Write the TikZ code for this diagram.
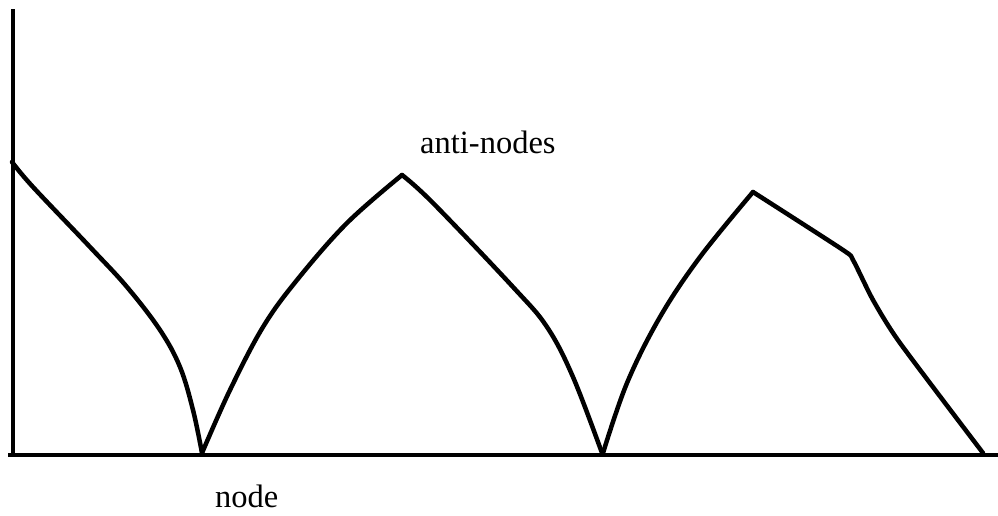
\documentclass[tikz,border=0pt]{standalone}
\usepackage{fontspec}
\setmainfont{Liberation Serif}
\begin{document}
\begin{tikzpicture}[x=1pt,y=-1pt,
  wave/.style={line width=4.5pt,line join=round,line cap=round},
  axis/.style={line width=4.5pt},
  lbl/.style={inner sep=0pt,anchor=base west,font=\fontsize{32.5}{38}\selectfont}]
\useasboundingbox (0,0) rectangle (998,515);
\fill[white] (0,0) rectangle (998,515);
\coordinate (o) at (13,455);
\coordinate (ytop) at (13,9);
\coordinate (xl) at (8,455);
\coordinate (xr) at (998,455);
\draw[axis] (ytop) -- (o |- xr);
\draw[axis] (xl) -- (xr);
\draw[wave] plot[smooth,tension=0.6] coordinates {(12,162) (33,187) (90,247) (127,287) (160,330) (180,367) (193,410) (202,453)};
\draw[wave] plot[smooth,tension=0.6] coordinates {(202,453) (230,390) (263,327) (297,280) (347,223) (402,175)};
\draw[wave] plot[smooth,tension=0.6] coordinates {(402,175) (433,203) (513,287) (547,327) (573,377) (602,453)};
\draw[wave] plot[smooth,tension=0.6] coordinates {(603,453) (627,383) (660,317) (700,257) (753,192)};
\draw[wave] plot[smooth,tension=0.4] coordinates {(753,192) (843,250) (853,260) (873,300) (900,343) (983,453)};
\node[lbl] (anti) at (420,153) {anti-nodes};
\node[lbl] (nd) at (215,507) {node};
\end{tikzpicture}
\end{document}
